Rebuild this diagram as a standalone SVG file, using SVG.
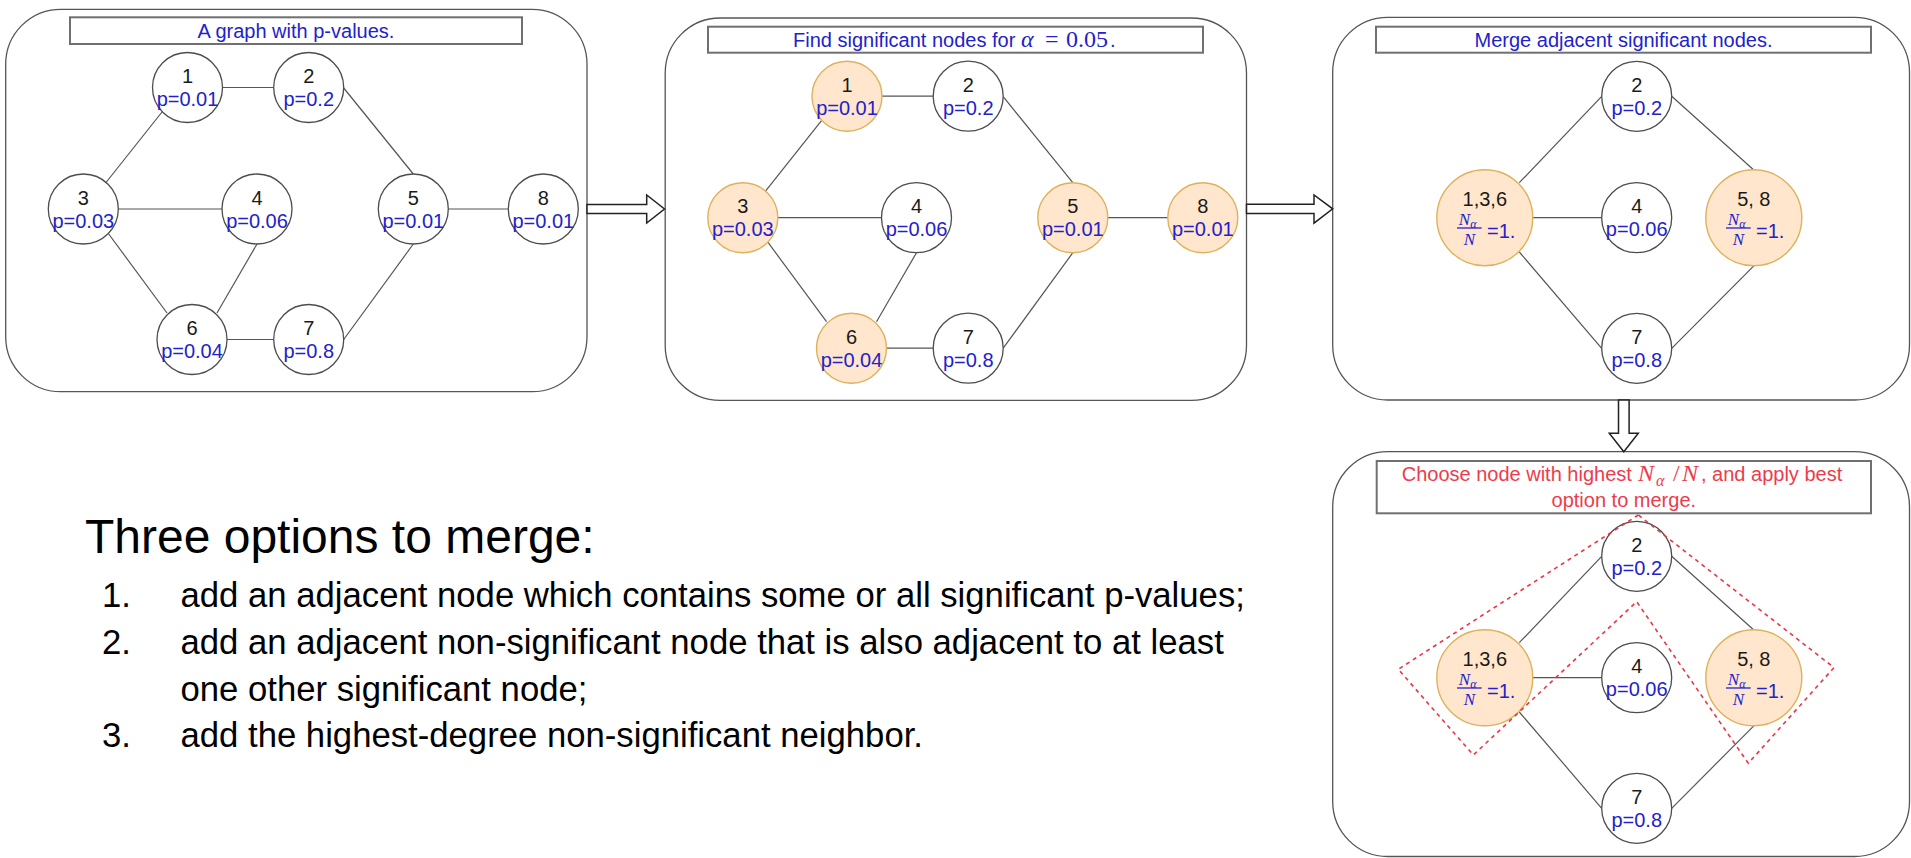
<svg xmlns="http://www.w3.org/2000/svg" width="1911" height="858" viewBox="0 0 1911 858">
  <style>
    .frame { fill: #ffffff; stroke: #555555; stroke-width: 1.3; }
    .title { fill: #ffffff; stroke: #707070; stroke-width: 2; }
    .node { fill: #ffffff; stroke: #4d4d4d; stroke-width: 1.3; }
    .sig { fill: #ffe6cc; stroke: #deb25c; stroke-width: 1.4; }
    .edge { stroke: #555555; stroke-width: 1.2; fill: none; }
    .blk { fill: #ffffff; stroke: #222222; stroke-width: 1.5; stroke-linejoin: miter; }
    .sel { fill: none; stroke: #ee3344; stroke-width: 1.6; stroke-dasharray: 4 4; }
    text { font-family: "Liberation Sans", Arial, sans-serif; font-size: 20px; }
    .num { fill: #1a1a1a; text-anchor: middle; }
    .pv { fill: #2222cc; }
    .red { fill: #ee3b4b; }
    .mid { text-anchor: middle; }
    .mi { font-family: "Liberation Serif", "DejaVu Serif", serif; font-style: italic; }
    .mr { font-family: "Liberation Serif", "DejaVu Serif", serif; }
    .m24 { font-size: 24px; }
    .m17 { font-size: 17px; }
    .sub { font-size: 12px; }
    .sub16 { font-size: 16px; }
    .bar { stroke: #2222cc; stroke-width: 1.3; }
    .head { fill: #000000; font-size: 48px; }
    .body { fill: #000000; font-size: 34.7px; }
  </style>

  <!-- panel frames and headings -->
  <g id="panel-graph">
    <rect class="frame" x="5.7" y="9.3" width="581.3" height="382.4" rx="55"/>
    <rect class="title" x="70" y="17.3" width="452" height="26.7"/>
    <text class="pv mid" x="296" y="38">A graph with p-values.</text>
  </g>
  <g id="panel-significant">
    <rect class="frame" x="665.2" y="18" width="581.3" height="382.4" rx="55"/>
    <rect class="title" x="708" y="26.7" width="495" height="26"/>
    <text class="pv" y="46.7"><tspan x="793">Find significant nodes for </tspan><tspan class="mi m24" x="1021">α</tspan><tspan class="mr m24" x="1045">=</tspan><tspan class="mr m24" x="1066">0.05</tspan><tspan x="1110">.</tspan></text>
  </g>
  <g id="panel-merge">
    <rect class="frame" x="1332.7" y="17.3" width="576.8" height="382.7" rx="55"/>
    <rect class="title" x="1376" y="26.7" width="495" height="26"/>
    <text class="pv mid" x="1623.5" y="46.7">Merge adjacent significant nodes.</text>
  </g>
  <g id="panel-choose">
    <rect class="frame" x="1332.7" y="451.7" width="576.8" height="404.8" rx="55"/>
    <rect class="title" x="1376.7" y="461" width="494.3" height="52.3"/>
    <text class="red" y="481"><tspan x="1401.7">Choose node with highest </tspan><tspan class="mi m24" x="1638">N</tspan><tspan class="mi sub16" x="1656" dy="5">α</tspan><tspan class="mr m24" x="1673" dy="-5">/</tspan><tspan class="mi m24" x="1682">N</tspan><tspan x="1701">, and apply best</tspan></text>
    <text class="red mid" x="1623.8" y="507.3">option to merge.</text>
  </g>

  <!-- edges and panel-to-panel arrows -->
  <g id="connectors">
    <g id="edges-graph">
      <line class="edge" x1="222.5" y1="87.5" x2="273.7" y2="87.5"/>
      <line class="edge" x1="106" y1="182.5" x2="162" y2="112"/>
      <line class="edge" x1="118.3" y1="209" x2="222" y2="209"/>
      <line class="edge" x1="108" y1="233" x2="167" y2="313"/>
      <line class="edge" x1="217" y1="313" x2="257" y2="244"/>
      <line class="edge" x1="227" y1="339.5" x2="273.7" y2="339.5"/>
      <line class="edge" x1="343.7" y1="88" x2="413.3" y2="174"/>
      <line class="edge" x1="343.7" y1="339.5" x2="413.3" y2="244"/>
      <line class="edge" x1="448.3" y1="209" x2="508.3" y2="209"/>
    </g>
    <g id="edges-significant" transform="translate(659.5,8.7)">
      <line class="edge" x1="222.5" y1="87.5" x2="273.7" y2="87.5"/>
      <line class="edge" x1="106" y1="182.5" x2="162" y2="112"/>
      <line class="edge" x1="118.3" y1="209" x2="222" y2="209"/>
      <line class="edge" x1="108" y1="233" x2="167" y2="313"/>
      <line class="edge" x1="217" y1="313" x2="257" y2="244"/>
      <line class="edge" x1="227" y1="339.5" x2="273.7" y2="339.5"/>
      <line class="edge" x1="343.7" y1="88" x2="413.3" y2="174"/>
      <line class="edge" x1="343.7" y1="339.5" x2="413.3" y2="244"/>
      <line class="edge" x1="448.3" y1="209" x2="508.3" y2="209"/>
    </g>
    <g id="edges-merge">
      <line class="edge" x1="1519.3" y1="182.7" x2="1601.7" y2="96.3"/>
      <line class="edge" x1="1671.7" y1="96.3" x2="1753.8" y2="170"/>
      <line class="edge" x1="1532.8" y1="217.7" x2="1601.7" y2="217.7"/>
      <line class="edge" x1="1519.3" y1="252" x2="1601.7" y2="348.3"/>
      <line class="edge" x1="1671.7" y1="348.3" x2="1753.8" y2="265.8"/>
    </g>
    <g id="edges-choose" transform="translate(0,460)">
      <line class="edge" x1="1519.3" y1="182.7" x2="1601.7" y2="96.3"/>
      <line class="edge" x1="1671.7" y1="96.3" x2="1753.8" y2="170"/>
      <line class="edge" x1="1532.8" y1="217.7" x2="1601.7" y2="217.7"/>
      <line class="edge" x1="1519.3" y1="252" x2="1601.7" y2="348.3"/>
      <line class="edge" x1="1671.7" y1="348.3" x2="1753.8" y2="265.8"/>
    </g>
    <polygon id="arrow-1" class="blk" points="587,204.4 646.7,204.4 646.7,195 664.5,209 646.7,223 646.7,213.6 587,213.6"/>
    <polygon id="arrow-2" class="blk" points="1246.5,204.2 1314,204.2 1314,195 1332.7,208.8 1314,223.2 1314,213.4 1246.5,213.4"/>
    <polygon id="arrow-3" class="blk" points="1618.5,400 1629.1,400 1629.1,433.3 1638.3,433.3 1623.8,451.7 1609.3,433.3 1618.5,433.3"/>
  </g>

  <!-- nodes: a graph with p-values -->
  <g id="g1-n1" transform="translate(187.5,87.5)"><circle class="node" r="35"/><text class="num" y="-4.5">1</text><text class="num pv" y="18.5">p=0.01</text></g>
  <g id="g1-n2" transform="translate(308.7,87.5)"><circle class="node" r="35"/><text class="num" y="-4.5">2</text><text class="num pv" y="18.5">p=0.2</text></g>
  <g id="g1-n3" transform="translate(83.3,209)"><circle class="node" r="35"/><text class="num" y="-4.5">3</text><text class="num pv" y="18.5">p=0.03</text></g>
  <g id="g1-n4" transform="translate(257,209)"><circle class="node" r="35"/><text class="num" y="-4.5">4</text><text class="num pv" y="18.5">p=0.06</text></g>
  <g id="g1-n5" transform="translate(413.3,209)"><circle class="node" r="35"/><text class="num" y="-4.5">5</text><text class="num pv" y="18.5">p=0.01</text></g>
  <g id="g1-n8" transform="translate(543.3,209)"><circle class="node" r="35"/><text class="num" y="-4.5">8</text><text class="num pv" y="18.5">p=0.01</text></g>
  <g id="g1-n6" transform="translate(192,339.5)"><circle class="node" r="35"/><text class="num" y="-4.5">6</text><text class="num pv" y="18.5">p=0.04</text></g>
  <g id="g1-n7" transform="translate(308.7,339.5)"><circle class="node" r="35"/><text class="num" y="-4.5">7</text><text class="num pv" y="18.5">p=0.8</text></g>

  <!-- nodes: significant at alpha = 0.05 -->
  <g id="g2-n1" transform="translate(847,96.2)"><circle class="sig" r="35"/><text class="num" y="-4.5">1</text><text class="num pv" y="18.5">p=0.01</text></g>
  <g id="g2-n2" transform="translate(968.2,96.2)"><circle class="node" r="35"/><text class="num" y="-4.5">2</text><text class="num pv" y="18.5">p=0.2</text></g>
  <g id="g2-n3" transform="translate(742.8,217.7)"><circle class="sig" r="35"/><text class="num" y="-4.5">3</text><text class="num pv" y="18.5">p=0.03</text></g>
  <g id="g2-n4" transform="translate(916.5,217.7)"><circle class="node" r="35"/><text class="num" y="-4.5">4</text><text class="num pv" y="18.5">p=0.06</text></g>
  <g id="g2-n5" transform="translate(1072.8,217.7)"><circle class="sig" r="35"/><text class="num" y="-4.5">5</text><text class="num pv" y="18.5">p=0.01</text></g>
  <g id="g2-n8" transform="translate(1202.8,217.7)"><circle class="sig" r="35"/><text class="num" y="-4.5">8</text><text class="num pv" y="18.5">p=0.01</text></g>
  <g id="g2-n6" transform="translate(851.5,348.2)"><circle class="sig" r="35"/><text class="num" y="-4.5">6</text><text class="num pv" y="18.5">p=0.04</text></g>
  <g id="g2-n7" transform="translate(968.2,348.2)"><circle class="node" r="35"/><text class="num" y="-4.5">7</text><text class="num pv" y="18.5">p=0.8</text></g>

  <!-- nodes: merged graph -->
  <g id="g3-n2" transform="translate(1636.7,96.3)"><circle class="node" r="35"/><text class="num" y="-4.5">2</text><text class="num pv" y="18.5">p=0.2</text></g>
  <g id="g3-n4" transform="translate(1636.7,217.7)"><circle class="node" r="35"/><text class="num" y="-4.5">4</text><text class="num pv" y="18.5">p=0.06</text></g>
  <g id="g3-n7" transform="translate(1636.7,348.3)"><circle class="node" r="35"/><text class="num" y="-4.5">7</text><text class="num pv" y="18.5">p=0.8</text></g>
  <g id="g3-n136" transform="translate(1484.8,217.8)">
    <circle class="sig" r="48"/>
    <text class="num" y="-11.5">1,3,6</text>
    <text class="mi pv m17" x="-26" y="7.5">N<tspan class="sub" dy="2.5">α</tspan></text>
    <line class="bar" x1="-27.8" y1="10.2" x2="-3.1" y2="10.2"/>
    <text class="mi pv mid m17" x="-15.5" y="27.5">N</text>
    <text class="pv" x="2.2" y="20">=1.</text>
  </g>
  <g id="g3-n58" transform="translate(1753.8,217.8)">
    <circle class="sig" r="48"/>
    <text class="num" y="-11.5">5, 8</text>
    <text class="mi pv m17" x="-26" y="7.5">N<tspan class="sub" dy="2.5">α</tspan></text>
    <line class="bar" x1="-27.8" y1="10.2" x2="-3.1" y2="10.2"/>
    <text class="mi pv mid m17" x="-15.5" y="27.5">N</text>
    <text class="pv" x="2.2" y="20">=1.</text>
  </g>

  <!-- nodes: choosing the merge -->
  <g id="g4-n2" transform="translate(1636.7,556.3)"><circle class="node" r="35"/><text class="num" y="-4.5">2</text><text class="num pv" y="18.5">p=0.2</text></g>
  <g id="g4-n4" transform="translate(1636.7,677.7)"><circle class="node" r="35"/><text class="num" y="-4.5">4</text><text class="num pv" y="18.5">p=0.06</text></g>
  <g id="g4-n7" transform="translate(1636.7,808.3)"><circle class="node" r="35"/><text class="num" y="-4.5">7</text><text class="num pv" y="18.5">p=0.8</text></g>
  <g id="g4-n136" transform="translate(1484.8,677.8)">
    <circle class="sig" r="48"/>
    <text class="num" y="-11.5">1,3,6</text>
    <text class="mi pv m17" x="-26" y="7.5">N<tspan class="sub" dy="2.5">α</tspan></text>
    <line class="bar" x1="-27.8" y1="10.2" x2="-3.1" y2="10.2"/>
    <text class="mi pv mid m17" x="-15.5" y="27.5">N</text>
    <text class="pv" x="2.2" y="20">=1.</text>
  </g>
  <g id="g4-n58" transform="translate(1753.8,677.8)">
    <circle class="sig" r="48"/>
    <text class="num" y="-11.5">5, 8</text>
    <text class="mi pv m17" x="-26" y="7.5">N<tspan class="sub" dy="2.5">α</tspan></text>
    <line class="bar" x1="-27.8" y1="10.2" x2="-3.1" y2="10.2"/>
    <text class="mi pv mid m17" x="-15.5" y="27.5">N</text>
    <text class="pv" x="2.2" y="20">=1.</text>
  </g>

  <!-- dashed outline of the chosen merge -->
  <polygon id="merge-choice" class="sel" points="1638.3,515 1398.3,669.3 1473.3,755 1636.7,601.7 1748.3,763.3 1834,667.6"/>

  <!-- merge options list -->
  <g id="options">
    <text class="head" x="85" y="553.3">Three options to merge:</text>
    <text class="body" x="102" y="607.3">1.</text>
    <text class="body" x="180.5" y="607.3">add an adjacent node which contains some or all significant p-values;</text>
    <text class="body" x="102" y="654">2.</text>
    <text class="body" x="180.5" y="654">add an adjacent non-significant node that is also adjacent to at least</text>
    <text class="body" x="180.5" y="700.7">one other significant node;</text>
    <text class="body" x="102" y="747.3">3.</text>
    <text class="body" x="180.5" y="747.3">add the highest-degree non-significant neighbor.</text>
  </g>
</svg>
